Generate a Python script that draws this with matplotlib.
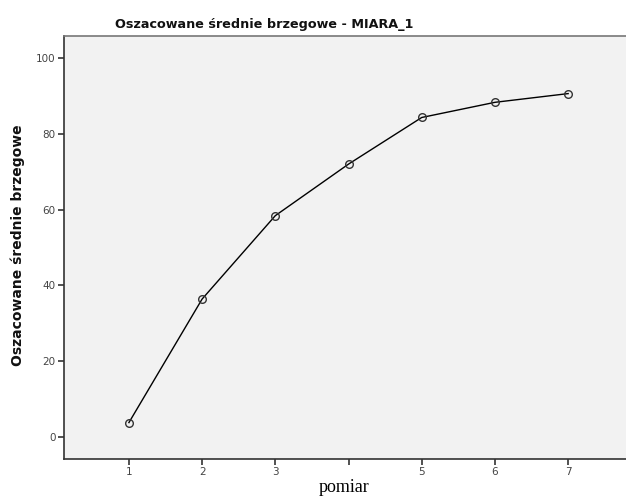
import matplotlib
matplotlib.use("Agg")
import matplotlib.pyplot as plt

# szacowane srednie brzegowe dla kolejnych pomiarow
pomiar = [1, 2, 3, 4, 5, 6, 7]
srednie = [3.8, 36.4, 58.4, 72.0, 84.3, 88.3, 90.6]
x_labels = ["1", "2", "3", "", "5", "6", "7"]
y_ticks = [0, 20, 40, 60, 80, 100]

fig = plt.figure(figsize=(6.26, 4.97), dpi=100)
ax = fig.add_axes([0.1022, 0.0765, 0.8978, 0.8511])
ax.set_facecolor("#f2f2f2")

ax.plot(pomiar, srednie, "-", color="black", lw=1.0)
ax.plot(pomiar, srednie, "o", ms=5.5, mfc="none", mec="#333333", mew=1.0)

ax.set_xlim(0.113, 7.79)
ax.set_ylim(-5.8, 105.8)
ax.set_xticks(pomiar)
ax.set_xticklabels(x_labels)
ax.set_yticks(y_ticks)

for s in ["left", "bottom"]:
    ax.spines[s].set_color("#333333")
    ax.spines[s].set_linewidth(1.2)
ax.spines["top"].set_color("#777777")
ax.spines["top"].set_linewidth(1.2)
ax.spines["right"].set_visible(False)

ax.tick_params(direction="out", length=4, width=1.2, color="#333333",
               labelsize=7.5, labelcolor="#444444", pad=2)

fig.text(0.422, 0.951, "Oszacowane średnie brzegowe - MIARA_1",
         ha="center", va="center", fontsize=9.2, fontweight="bold", color="#111111")
fig.text(0.028, 0.507, "Oszacowane średnie brzegowe", rotation=90,
         ha="center", va="center", fontsize=10, fontweight="bold", color="#111111")
fig.text(0.55, 0.02, "pomiar", ha="center", va="center",
         fontsize=13, family="Liberation Serif", color="black")

fig.savefig("out.png", dpi=100)
